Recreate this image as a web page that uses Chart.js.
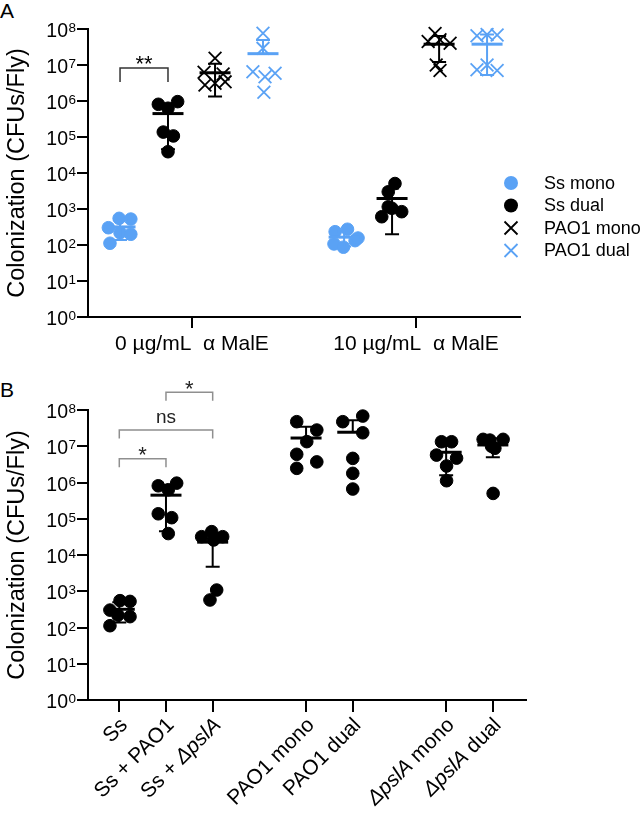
<!DOCTYPE html>
<html><head><meta charset="utf-8">
<script src="https://cdn.jsdelivr.net/npm/chart.js@4.4.1/dist/chart.umd.min.js"></script>
<style>
html,body{margin:0;padding:0;background:#fff;width:644px;height:815px;overflow:hidden;}
#cA{position:absolute;left:0;top:0;}
#cB{position:absolute;left:0;top:380px;}
.pl{position:absolute;left:0;font:21px "Liberation Sans",Arial,sans-serif;line-height:21px;color:#000;}
</style></head><body>
<div class="pl" style="top:-0.5px">A</div>
<div class="pl" style="top:379px">B</div>
<canvas id="cA" width="644" height="380" style="width:644px;height:380px"></canvas>
<canvas id="cB" width="644" height="435" style="width:644px;height:435px"></canvas>
<script>
const FONT = '"Liberation Sans", Arial, Helvetica, sans-serif';
const BLUE = '#5AA2F5';
const BLACK = '#000000';

// ---------- Panel A data ----------
const categoriesA = ['0 µg/mL  α MalE', '10 µg/mL  α MalE'];
const seriesA = ['Ss mono', 'Ss dual', 'PAO1 mono', 'PAO1 dual'];
const yExponents = [0, 1, 2, 3, 4, 5, 6, 7, 8];

const ssMono_0   = [302, 550, 525, 112, 219, 199];
const ssDual_0   = [8.1e5, 9.6e5, 6.3e5, 1.37e5, 1.07e5, 3.9e4];
const pao1Mono_0 = [1.53e7, 6.3e6, 5.6e6, 2.77e6, 3.1e6, 3.4e6];
const pao1Dual_0 = [7.6e7, 2.9e7, 6.5e6, 4.7e6, 5.9e6, 1.74e6];
const ssMono_10   = [234, 274, 132, 107, 87, 156];
const ssDual_10   = [5100, 3000, 1150, 842, 1050, 610];
const pao1Mono_10 = [7.5e7, 4.5e7, 5.0e7, 4.0e7, 1.0e7, 7.0e6];
const pao1Dual_10 = [6.5e7, 7.0e7, 6.8e7, 7.4e6, 1.0e7, 7.0e6];

// horizontal scatter of points within a column (category units)
const jitSsMono_0   = [-0.052, -0.004, 0.048, -0.045, 0, 0.048];
const jitSsDual_0   = [-0.043, 0.043, 0, -0.021, 0.024, 0];
const jitPao1Mono_0 = [0, -0.049, 0.036, -0.045, 0, 0.045];
const jitPao1Dual_0 = [0, 0, -0.045, 0.009, 0.054, 0.004];
const jitSsMono_10   = [-0.040, 0.015, 0.049, -0.045, -0.003, 0.062];
const jitSsDual_10   = [0.013, -0.017, -0.017, 0.043, -0.001, -0.046];
const jitPao1Mono_10 = [-0.018, -0.049, 0.004, 0.049, -0.013, 0.004];
const jitPao1Dual_10 = [-0.045, 0, 0.045, -0.045, 0, 0.045];

const columnOffsetA = [-0.321, -0.107, 0.103, 0.317];
const bracketsA = [{a: 0, b: 1, y: 8.26e6, label: '**'}];

// ---------- Panel B data ----------
const categoriesB = ['Ss', 'Ss + PAO1', 'Ss + ΔpslA', 'PAO1 mono', 'PAO1 dual', 'ΔpslA mono', 'ΔpslA dual'];
const positionsB = [0, 1, 2, 4, 5, 7, 8];
const ssB       = [302, 550, 525, 112, 219, 199];
const ssPao1B   = [8.1e5, 9.6e5, 6.3e5, 1.37e5, 1.07e5, 3.9e4];
const ssPslB    = [4.4e4, 3.2e4, 3.2e4, 2.6e4, 1.08e3, 574];
const pao1MonoB = [4.76e7, 2.8e7, 1.34e7, 6.0e6, 2.46e6, 3.7e6];
const pao1DualB = [4.76e7, 6.8e7, 2.35e7, 4.63e6, 1.79e6, 6.6e5];
const pslMonoB  = [1.33e7, 1.33e7, 5.7e6, 4.7e6, 2.85e6, 1.12e6];
const pslDualB  = [1.55e7, 1.48e7, 1.55e7, 8.8e6, 1.0e7, 5.0e5];

const jitSsB       = [-0.2, 0.015, 0.23, -0.2, -0.028, 0.23];
const jitSsPao1B   = [-0.165, 0.229, 0.049, -0.165, 0.122, 0.049];
const jitSsPslB    = [-0.021, -0.236, 0.214, 0.021, 0.086, -0.058];
const jitPao1MonoB = [-0.2, 0.23, 0.015, -0.2, -0.2, 0.23];
const jitPao1DualB = [-0.214, 0.214, 0.214, 0, 0, 0];
const jitPslMonoB  = [-0.1, 0.116, -0.206, 0.223, 0.009, 0.009];
const jitPslDualB  = [-0.208, -0.064, 0.22, 0.043, -0.028, 0.006];

const bracketsB = [
  {a: 0, b: 1, y: 4.54e6, label: '*'},
  {a: 0, b: 2, y: 2.8e7, label: 'ns'},
  {a: 1, b: 2, y: 3.08e8, label: '*'}
];

// ---------- helpers ----------
function stats(v) {
  const n = v.length;
  const m = v.reduce((a, b) => a + b, 0) / n;
  const sd = Math.sqrt(v.reduce((a, b) => a + (b - m) * (b - m), 0) / (n - 1));
  return {m, sd};
}

function makeDataset(label, values, jitter, center, color, style) {
  return {
    label: label,
    data: values.map((v, i) => ({x: center + jitter[i], y: v})),
    values: values, center: center, barColor: color,
    pointStyle: style,
    pointRadius: style === 'circle' ? 6.3 : 9,
    pointBorderWidth: style === 'circle' ? 1 : 1.8,
    backgroundColor: color, borderColor: color,
    clip: false
  };
}

const errorBarPlugin = {
  id: 'errorBars',
  afterDatasetsDraw(chart) {
    const ctx = chart.ctx, xs = chart.scales.x, ys = chart.scales.y;
    chart.data.datasets.forEach(ds => {
      const {m, sd} = stats(ds.values);
      const cx = xs.getPixelForValue(ds.center);
      const yM = ys.getPixelForValue(m);
      const yU = ys.getPixelForValue(m + sd);
      const lo = m - sd;
      const yL = lo > 0 ? ys.getPixelForValue(lo) : null;
      ctx.save();
      ctx.strokeStyle = ds.barColor;
      ctx.lineWidth = 2;
      ctx.beginPath();
      ctx.moveTo(cx, yU); ctx.lineTo(cx, yL === null ? yM : yL);
      ctx.moveTo(cx - 7, yU); ctx.lineTo(cx + 7, yU);
      if (yL !== null) { ctx.moveTo(cx - 7, yL); ctx.lineTo(cx + 7, yL); }
      ctx.stroke();
      ctx.lineWidth = 3;
      ctx.beginPath(); ctx.moveTo(cx - 15.5, yM); ctx.lineTo(cx + 15.5, yM); ctx.stroke();
      ctx.restore();
    });
  }
};

const yPowerLabels = {
  id: 'yPowerLabels',
  afterDraw(chart) {
    const ys = chart.scales.y, ctx = chart.ctx;
    const xr = ys.right - 12;
    ctx.save();
    ctx.fillStyle = '#000';
    ctx.textBaseline = 'alphabetic';
    ctx.textAlign = 'right';
    ys.ticks.forEach(t => {
      const e = String(Math.round(Math.log10(t.value)));
      const py = ys.getPixelForValue(t.value);
      ctx.font = '13.5px ' + FONT;
      const ew = ctx.measureText(e).width;
      ctx.fillText(e, xr, py + 3);
      ctx.font = '19.5px ' + FONT;
      ctx.fillText('10', xr - ew - 0.5, py + 8);
    });
    ctx.restore();
  }
};

function bracketPlugin(list, opts) {
  return {
    id: 'brackets',
    afterDraw(chart) {
      const ctx = chart.ctx, xs = chart.scales.x, ys = chart.scales.y;
      const dss = chart.data.datasets;
      ctx.save();
      list.forEach(br => {
        const x1 = xs.getPixelForValue(dss[br.a].center);
        const x2 = xs.getPixelForValue(dss[br.b].center);
        const y = ys.getPixelForValue(br.y);
        ctx.strokeStyle = opts.color; ctx.lineWidth = 1.5;
        ctx.beginPath();
        ctx.moveTo(x1, y + opts.leg); ctx.lineTo(x1, y); ctx.lineTo(x2, y); ctx.lineTo(x2, y + opts.leg);
        ctx.stroke();
        ctx.fillStyle = opts.textColor;
        ctx.textAlign = 'center';
        ctx.textBaseline = 'alphabetic';
        if (br.label === 'ns') {
          ctx.font = '19px ' + FONT;
          ctx.fillText(br.label, (x1 + x2) / 2, y - 7);
        } else {
          ctx.font = '22px ' + FONT;
          ctx.fillText(br.label, (x1 + x2) / 2, y + 3.5);
        }
      });
      ctx.restore();
    }
  };
}

const legendPluginA = {
  id: 'legendA',
  afterDraw(chart) {
    const ctx = chart.ctx;
    const dss = chart.data.datasets.slice(0, seriesA.length);
    ctx.save();
    dss.forEach((ds, i) => {
      const y = 183 + i * 22.5, x = 511;
      ctx.fillStyle = ds.barColor; ctx.strokeStyle = ds.barColor;
      if (ds.pointStyle === 'circle') {
        ctx.beginPath(); ctx.arc(x, y, 7, 0, Math.PI * 2); ctx.fill();
      } else {
        ctx.lineWidth = 1.8;
        ctx.beginPath();
        ctx.moveTo(x - 6.5, y - 6.5); ctx.lineTo(x + 6.5, y + 6.5);
        ctx.moveTo(x - 6.5, y + 6.5); ctx.lineTo(x + 6.5, y - 6.5);
        ctx.stroke();
      }
      ctx.fillStyle = '#000';
      ctx.font = '18px ' + FONT;
      ctx.textAlign = 'left'; ctx.textBaseline = 'middle';
      ctx.fillText(ds.label, 544, y + 1);
    });
    ctx.restore();
  }
};

const xLabelsB = {
  id: 'xLabelsB',
  afterDraw(chart) {
    const xs = chart.scales.x, ctx = chart.ctx;
    ctx.save();
    ctx.fillStyle = '#000';
    xs.ticks.forEach(t => {
      const label = categoriesB[positionsB.indexOf(t.value)];
      const parts = label.split(/(ΔpslA)/).filter(s => s).map(s => ({s: s, it: s === 'ΔpslA'}));
      let total = 0;
      parts.forEach(p => { ctx.font = (p.it ? 'italic ' : '') + '21px ' + FONT; p.w = ctx.measureText(p.s).width; total += p.w; });
      ctx.save();
      ctx.translate(xs.getPixelForValue(t.value) + 5, xs.top + 22);
      ctx.rotate(-Math.PI / 4);
      ctx.textBaseline = 'middle'; ctx.textAlign = 'left';
      let x = -total;
      parts.forEach(p => { ctx.font = (p.it ? 'italic ' : '') + '21px ' + FONT; ctx.fillText(p.s, x, 0); x += p.w; });
      ctx.restore();
    });
    ctx.restore();
  }
};

function yAxis(width) {
  return {
    type: 'logarithmic', min: 1, max: 1e8,
    afterBuildTicks: s => { s.ticks = yExponents.map(e => ({value: Math.pow(10, e)})); },
    afterFit: s => { s.width = width; },
    ticks: {display: false},
    grid: {display: true, drawOnChartArea: false, drawTicks: true, tickLength: 11, color: '#000', lineWidth: 2},
    border: {display: true, color: '#000', width: 2},
    title: {display: true, text: 'Colonization (CFUs/Fly)', color: '#000',
            font: {family: FONT, size: 23.5}, padding: {top: 3, bottom: 0}}
  };
}

// ---------- Chart A ----------
const valuesA = [[ssMono_0, ssDual_0, pao1Mono_0, pao1Dual_0], [ssMono_10, ssDual_10, pao1Mono_10, pao1Dual_10]];
const jitterA = [[jitSsMono_0, jitSsDual_0, jitPao1Mono_0, jitPao1Dual_0], [jitSsMono_10, jitSsDual_10, jitPao1Mono_10, jitPao1Dual_10]];
const colorsA = [BLUE, BLACK, BLACK, BLUE];
const stylesA = ['circle', 'circle', 'crossRot', 'crossRot'];
const datasetsA = [];
categoriesA.forEach((c, ci) => {
  seriesA.forEach((s, si) => {
    datasetsA.push(makeDataset(s, valuesA[ci][si], jitterA[ci][si], ci + columnOffsetA[si], colorsA[si], stylesA[si]));
  });
});

new Chart(document.getElementById('cA'), {
  type: 'scatter',
  data: {datasets: datasetsA},
  options: {
    responsive: false, animation: false, devicePixelRatio: 1, events: [],
    layout: {padding: {top: 29, right: 124, left: 0, bottom: 0}},
    plugins: {legend: {display: false}, tooltip: {enabled: false}},
    scales: {
      x: {
        type: 'linear', min: -0.464, max: 1.464,
        afterBuildTicks: s => { s.ticks = categoriesA.map((c, i) => ({value: i})); },
        afterFit: s => { s.height = 63; },
        ticks: {callback: v => categoriesA[v], color: '#000', font: {family: FONT, size: 21},
                padding: 4, maxRotation: 0, minRotation: 0, autoSkip: false},
        grid: {display: true, drawOnChartArea: false, drawTicks: true, tickLength: 11, color: '#000', lineWidth: 2},
        border: {display: true, color: '#000', width: 2}
      },
      y: yAxis(88)
    }
  },
  plugins: [errorBarPlugin, yPowerLabels, bracketPlugin(bracketsA, {color: '#333', textColor: '#000', leg: 14}), legendPluginA]
});

// ---------- Chart B ----------
const valuesB = [ssB, ssPao1B, ssPslB, pao1MonoB, pao1DualB, pslMonoB, pslDualB];
const jitterB = [jitSsB, jitSsPao1B, jitSsPslB, jitPao1MonoB, jitPao1DualB, jitPslMonoB, jitPslDualB];
const datasetsB = categoriesB.map((c, i) => makeDataset(c, valuesB[i], jitterB[i], positionsB[i], BLACK, 'circle'));

new Chart(document.getElementById('cB'), {
  type: 'scatter',
  data: {datasets: datasetsB},
  options: {
    responsive: false, animation: false, devicePixelRatio: 1, events: [],
    layout: {padding: {top: 30, right: 118, left: 0, bottom: 0}},
    plugins: {legend: {display: false}, tooltip: {enabled: false}},
    scales: {
      x: {
        type: 'linear', min: -0.67, max: 8.71,
        afterBuildTicks: s => { s.ticks = positionsB.map(p => ({value: p})); },
        afterFit: s => { s.height = 115; },
        ticks: {display: false},
        grid: {display: true, drawOnChartArea: false, drawTicks: true, tickLength: 12, color: '#000', lineWidth: 2},
        border: {display: true, color: '#000', width: 2}
      },
      y: yAxis(88)
    }
  },
  plugins: [errorBarPlugin, yPowerLabels, bracketPlugin(bracketsB, {color: '#8f8f8f', textColor: '#222', leg: 8.5}), xLabelsB]
});
</script>
</body></html>
